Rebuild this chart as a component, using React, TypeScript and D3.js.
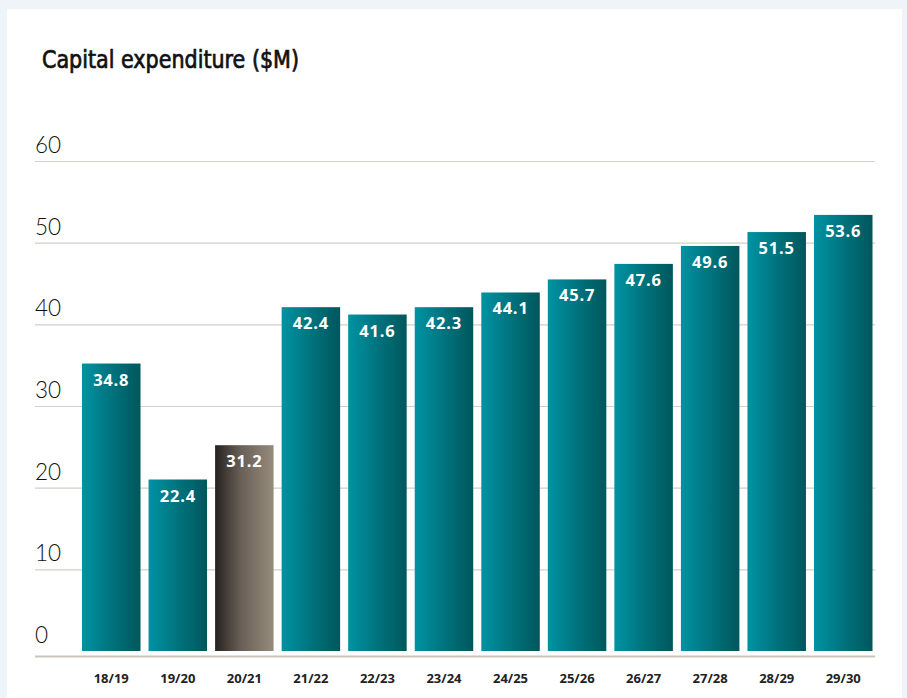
import React from "react";
import * as d3 from "d3";

const categories = ["18/19", "19/20", "20/21", "21/22", "22/23", "23/24", "24/25", "25/26", "26/27", "27/28", "28/29", "29/30"];
const valueLabels = [34.8, 22.4, 31.2, 42.4, 41.6, 42.3, 44.1, 45.7, 47.6, 49.6, 51.5, 53.6];
// bar heights as drawn in the picture
const barHeights = [35.2, 21.0, 25.2, 42.1, 41.2, 42.1, 43.9, 45.5, 47.4, 49.6, 51.3, 53.4];
const highlighted = ["20/21"];
const yTicks = [0, 10, 20, 30, 40, 50, 60];
const title = "Capital expenditure ($M)";

export default function App() {
  const W = 907, H = 698;
  const y = d3.scaleLinear().domain([0, 60]).range([651, 161]);
  const x = d3.scaleBand<string>().domain(categories).range([82, 872.5]).paddingInner(0.121).paddingOuter(0);
  const gridX0 = 35, gridX1 = 875;
  return (
    <svg width={W} height={H} style={{ position: "absolute", left: 0, top: 0, display: "block" }}>
      <defs>
        <linearGradient id="teal" x1="0" x2="1" y1="0" y2="0">
          <stop offset="0" stopColor="#0093a3" />
          <stop offset="0.55" stopColor="#00707a" />
          <stop offset="1" stopColor="#00575c" />
        </linearGradient>
        <linearGradient id="grey" x1="0" x2="1" y1="0" y2="0">
          <stop offset="0" stopColor="#272320" />
          <stop offset="0.45" stopColor="#6a6058" />
          <stop offset="1" stopColor="#968b7b" />
        </linearGradient>
      </defs>
      <rect x={0} y={0} width={W} height={H} fill="#eef4f7" />
      <rect x={7} y={9} width={895} height={H - 9} fill="#ffffff" />
      <text x={42} y={68} fontFamily="'DejaVu Sans Condensed', 'DejaVu Sans', sans-serif" fontSize={25} fontWeight={400} fill="#111" stroke="#111" strokeWidth={0.7} textLength={257} lengthAdjust="spacingAndGlyphs">{title}</text>
      {yTicks.map((t) => (
        <g key={t}>
          {t > 0 && <line x1={gridX0} x2={gridX1} y1={y(t) + 0.5} y2={y(t) + 0.5} stroke="#d3cfc9" strokeWidth={1.2} />}
          <text x={35} y={y(t) - 8} fontFamily="Lato, 'Open Sans', sans-serif" fontWeight={300} fontSize={22.5} fill="#111">{t}</text>
        </g>
      ))}
      {categories.map((c, i) => {
        const bx = x(c)!;
        const bw = x.bandwidth();
        const top = y(barHeights[i]);
        return (
          <g key={c}>
            <rect x={bx} y={top} width={bw} height={y(0) - top} fill={highlighted.includes(c) ? "url(#grey)" : "url(#teal)"} />
            <text x={bx + bw / 2} y={top + 22} textAnchor="middle" fontFamily="'Open Sans', sans-serif" fontWeight={700} fontSize={16.5} letterSpacing={0.8} fill="#ffffff">{valueLabels[i].toFixed(1)}</text>
            <text x={bx + bw / 2} y={682.5} textAnchor="middle" fontFamily="'Open Sans', sans-serif" fontWeight={700} fontSize={13} fill="#222">{c}</text>
          </g>
        );
      })}
      <line x1={gridX0} x2={gridX1} y1={656.5} y2={656.5} stroke="#c9c5bd" strokeWidth={2.2} />
    </svg>
  );
}
